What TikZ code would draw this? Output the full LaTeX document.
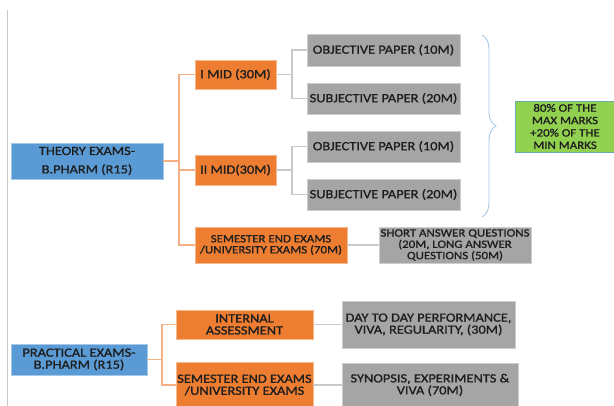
\documentclass[tikz,border=0pt]{standalone}
\usepackage{fontspec}
\setmainfont{Carlito}[FakeStretch=1.15, FakeBold=1.2]
\usetikzlibrary{decorations.pathreplacing}
\definecolor{cblue}{HTML}{5B9BD5}
\definecolor{corange}{HTML}{ED7D31}
\definecolor{cgrey}{HTML}{A5A5A5}
\definecolor{cgreen}{HTML}{92D050}
\definecolor{txt}{HTML}{1E1E1E}
\definecolor{oline}{HTML}{F4B183}
\definecolor{gline}{HTML}{C9C9C9}
\definecolor{braceblue}{HTML}{A9C8E8}
\begin{document}
\begin{tikzpicture}[x=1pt,y=-1pt,
  base/.style={inner sep=0pt, align=center, text=txt, line width=0.8pt,
    font=\fontsize{12.5}{12}\selectfont},
  small/.style={font=\fontsize{11.2}{11.3}\selectfont},
  sz/.style 2 args={minimum width=#1pt, minimum height=#2pt},
  bluebox/.style={base, fill=cblue, draw=cblue!55!white},
  orbox/.style={base, fill=corange, draw=corange!55!white},
  grbox/.style={base, fill=cgrey, draw=cgrey!55!white},
  gnbox/.style={base, fill=cgreen, draw=cblue!70!cgreen},
  oconn/.style={draw=oline, line width=1.2pt},
  gconn/.style={draw=gline, line width=1.2pt},
  bracestyle/.style={draw=braceblue, line width=0.9pt,
    decorate, decoration={brace, amplitude=14pt}}
]
\useasboundingbox (0,0) rectangle (614,406);
\clip (0,0) rectangle (614,406);
\fill[white] (0,0) rectangle (614,406);
\draw[draw=gline, line width=1pt] (7.5,10) -- (7.5,406);

% Theory tree
\node[bluebox, sz={152}{36}, font=\fontsize{12.5}{18.4}\selectfont] (theory) at (87,161) {THEORY EXAMS-\\B.PHARM (R15)};
\node[orbox, sz={81}{29}] (imid) at (235.5,74.5) {I MID (30M)};
\node[orbox, sz={81}{30}] (iimid) at (235.5,170) {II MID(30M)};
\node[orbox, sz={152}{36}, font=\fontsize{11.2}{11}\selectfont] (sem1) at (271,245) {SEMESTER END EXAMS\\/UNIVERSITY EXAMS (70M)};
\node[grbox, sz={153}{32}] (obj1) at (383.5,50) {OBJECTIVE PAPER (10M)};
\node[grbox, sz={153}{31}] (subj1) at (383.5,98.5) {SUBJECTIVE PAPER (20M)};
\node[grbox, sz={153}{31}] (obj2) at (383.5,146.5) {OBJECTIVE PAPER (10M)};
\node[grbox, sz={153}{31}] (subj2) at (383.5,194.5) {SUBJECTIVE PAPER (20M)};
\node[grbox, sz={152}{36}, small] (short) at (455,245) {SHORT ANSWER QUESTIONS\\(20M, LONG ANSWER\\QUESTIONS (50M)};
\node[gnbox, sz={100}{51}, font=\fontsize{11.2}{12.4}\selectfont] (green) at (565,126.5) {80\% OF THE\\MAX MARKS\\+20\% OF THE\\MIN MARKS};

\coordinate (tj) at (179,161);
\draw[oconn] (theory.east) -- (tj);
\draw[oconn] (imid.west) -| (tj) |- (sem1.west);
\draw[oconn] (tj) |- (iimid.west);
\coordinate (j1) at (292,74.5);
\draw[gconn] (imid.east) -- (j1);
\draw[gconn] (obj1.west) -| (j1) |- (subj1.west);
\coordinate (j2) at (292,170);
\draw[gconn] (iimid.east) -- (j2);
\draw[gconn] (obj2.west) -| (j2) |- (subj2.west);
\draw[gconn] (sem1.east) -- (short.west);
\draw[bracestyle] (482,35) -- (482,217);

% Practical tree
\node[bluebox, sz={136}{31}] (prac) at (79,359.5) {PRACTICAL EXAMS-\\B.PHARM (R15)};
\node[orbox, sz={137}{29}] (intern) at (244.5,324.5) {INTERNAL\\ASSESSMENT};
\node[orbox, sz={137}{46}] (sem2) at (244.5,385) {SEMESTER END EXAMS\\/UNIVERSITY EXAMS};
\node[grbox, sz={173}{47}] (day) at (428.5,324.5) {DAY TO DAY PERFORMANCE,\\VIVA, REGULARITY, (30M)};
\node[grbox, sz={176}{44}] (syn) at (430,385) {SYNOPSIS, EXPERIMENTS \&\\VIVA (70M)};

\coordinate (pj) at (162,359.5);
\draw[oconn] (prac.east) -- (pj);
\draw[oconn] (intern.west) -| (pj) |- (sem2.west);
\draw[gconn] (intern.east) -- (day.west);
\draw[gconn] (sem2.east) -- (syn.west);
\end{tikzpicture}
\end{document}
